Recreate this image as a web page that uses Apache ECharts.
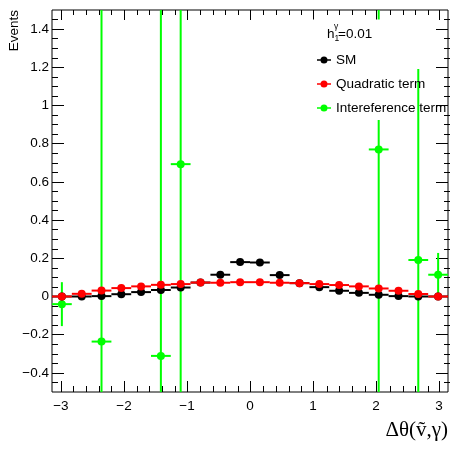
<!DOCTYPE html>
<html>
<head>
<meta charset="utf-8">
<script src="https://cdn.jsdelivr.net/npm/echarts@6/dist/echarts.min.js"></script>
<style>
  html, body { margin: 0; padding: 0; background: #fff; }
  #chart { width: 451px; height: 451px; }
</style>
</head>
<body>
<div id="chart"></div>
<script>
// Bin centres of the 20 bins spanning [-pi, pi]
const binCenters = [-2.985, -2.670, -2.356, -2.042, -1.728, -1.414, -1.100, -0.785, -0.471, -0.157,
                    0.157, 0.471, 0.785, 1.100, 1.414, 1.728, 2.042, 2.356, 2.670, 2.985];
const binHalfWidth = 0.157;

// Standard Model prediction
const smValues = [0.000, 0.000, 0.002, 0.012, 0.023, 0.034, 0.047, 0.073, 0.114, 0.180,
                  0.178, 0.112, 0.070, 0.049, 0.030, 0.019, 0.009, 0.002, 0.000, 0.000];
// Quadratic (EFT squared) term
const quadValues = [0.000, 0.014, 0.031, 0.044, 0.053, 0.061, 0.065, 0.073, 0.072, 0.075,
                    0.075, 0.072, 0.070, 0.065, 0.060, 0.053, 0.042, 0.030, 0.013, 0.000];
// Interference term (only non-empty bins are drawn)
const interfValues = [-0.040, null, -0.236, null, null, -0.311, 0.693, null, null, null,
                      null, null, null, null, null, null, 0.770, null, 0.191, 0.114];
const interfErrors = [0.115, null, 2.0, null, null, 2.1, 1.4, null, null, null,
                      null, null, null, null, null, null, 1.5, null, 1.0, 0.114];

// Axis ticks and labels
const xMajorTicks = [-3, -2, -1, 0, 1, 2, 3];
const yMajorTicks = [-0.4, -0.2, 0, 0.2, 0.4, 0.6, 0.8, 1, 1.2, 1.4];
const X_MIN = -Math.PI, X_MAX = Math.PI, Y_MIN = -0.5, Y_MAX = 1.5;

const xMinorTicks = [];
for (let i = -15; i <= 15; i++) { if (i % 5 !== 0) xMinorTicks.push(+(i * 0.2).toFixed(2)); }
const yMinorTicks = [];
for (let i = -9; i <= 29; i++) { if (i % 4 !== 0) yMinorTicks.push(+(i * 0.05).toFixed(2)); }

function rows(values, errors) {
  const out = [];
  values.forEach((v, i) => {
    if (v === null) return;
    out.push([binCenters[i], v, errors ? errors[i] : 0]);
  });
  return out;
}

function errorBarRenderer(color, lineWidth, radius) {
  return function (params, api) {
    const x = api.value(0), y = api.value(1), e = api.value(2) || 0;
    const cs = params.coordSys;
    const c = api.coord([x, y]);
    const l = api.coord([x - binHalfWidth, y]);
    const r = api.coord([x + binHalfWidth, y]);
    const clampY = v => Math.max(cs.y, Math.min(cs.y + cs.height, v));
    const children = [{
      type: 'line',
      shape: { x1: l[0], y1: c[1], x2: r[0], y2: c[1] },
      style: { stroke: color, lineWidth: lineWidth }
    }];
    if (e > 0) {
      const top = clampY(api.coord([x, y + e])[1]);
      const bot = clampY(api.coord([x, y - e])[1]);
      children.push({
        type: 'line',
        shape: { x1: c[0], y1: top, x2: c[0], y2: bot },
        style: { stroke: color, lineWidth: lineWidth }
      });
    }
    children.push({
      type: 'circle',
      shape: { cx: c[0], cy: c[1], r: radius },
      style: { fill: color }
    });
    return { type: 'group', children: children };
  };
}

const legendIcon = 'path://M0,3.25H14V4.75H0Z M10.5,4A3.5,3.5,0,1,1,3.5,4A3.5,3.5,0,1,1,10.5,4Z';
const sansFont = 'Liberation Sans, Arial, sans-serif';
const labelFont = { color: '#000', fontFamily: sansFont, fontSize: 13.5 };

function valueAxis(extra) {
  return Object.assign({
    type: 'value',
    axisLine: { show: false, onZero: false },
    splitLine: { show: false },
    axisLabel: { show: false },
    axisTick: { show: true, inside: true, lineStyle: { color: '#000', width: 1 } }
  }, extra);
}

function ticks(len, values) {
  return { show: true, inside: true, length: len, customValues: values, lineStyle: { color: '#000', width: 1 } };
}

function fmt(v) {
  const s = String(+(+v).toFixed(2));
  return s.replace('-', '\u2212');
}

const gridRect = { left: 52, right: 1, top: 10, bottom: 59 };

const option = {
  animation: false,
  backgroundColor: '#fff',
  grid: [
    Object.assign({ show: true, borderColor: '#000', borderWidth: 1, backgroundColor: 'transparent' }, gridRect),
    Object.assign({ show: false }, gridRect)
  ],
  xAxis: [
    valueAxis({
      gridIndex: 0, position: 'bottom', min: X_MIN, max: X_MAX,
      axisTick: ticks(11, xMajorTicks),
      axisLabel: Object.assign({ show: true, margin: 7, customValues: xMajorTicks, formatter: fmt }, labelFont),
      name: 'Δθ(ṽ,γ)',
      nameLocation: 'end',
      nameGap: 0,
      nameTextStyle: {
        fontFamily: 'Liberation Serif, Times New Roman, serif', fontSize: 21, color: '#000',
        align: 'right', verticalAlign: 'top', padding: [28, 0, 0, 0]
      }
    }),
    valueAxis({ gridIndex: 0, position: 'top', min: X_MIN, max: X_MAX, axisTick: ticks(10, xMajorTicks) }),
    valueAxis({ gridIndex: 1, position: 'bottom', min: X_MIN, max: X_MAX, axisTick: ticks(6, xMinorTicks) }),
    valueAxis({ gridIndex: 1, position: 'top', min: X_MIN, max: X_MAX, axisTick: ticks(5, xMinorTicks) })
  ],
  yAxis: [
    valueAxis({
      gridIndex: 0, position: 'left', min: Y_MIN, max: Y_MAX,
      axisTick: ticks(12, yMajorTicks),
      axisLabel: Object.assign({ show: true, margin: 3, customValues: yMajorTicks, formatter: fmt }, labelFont)
    }),
    valueAxis({ gridIndex: 0, position: 'right', min: Y_MIN, max: Y_MAX, axisTick: ticks(12, yMajorTicks) }),
    valueAxis({ gridIndex: 1, position: 'left', min: Y_MIN, max: Y_MAX, axisTick: ticks(6, yMinorTicks) }),
    valueAxis({ gridIndex: 1, position: 'right', min: Y_MIN, max: Y_MAX, axisTick: ticks(6, yMinorTicks) })
  ],
  legend: {
    orient: 'vertical',
    left: 312,
    top: 47,
    itemWidth: 14,
    itemHeight: 7,
    itemGap: 8,
    z: 10,
    selectedMode: false,
    textStyle: Object.assign({ lineHeight: 16 }, labelFont),
    data: [
      { name: 'SM', icon: legendIcon },
      { name: 'Quadratic term', icon: legendIcon },
      { name: 'Intereference term', icon: legendIcon }
    ]
  },
  graphic: [
    { type: 'rect', z: 5, shape: { x: 300, y: 19.5, width: 100, height: 100.5 }, style: { fill: '#fff' } },
    { type: 'text', z: 11, x: 327, y: 34, style: { text: 'h', fontSize: 13.5, fontFamily: sansFont, fill: '#000', verticalAlign: 'middle' } },
    { type: 'text', z: 11, x: 334, y: 27, style: { text: 'γ', fontSize: 8.5, fontFamily: sansFont, fill: '#000', verticalAlign: 'middle' } },
    { type: 'text', z: 11, x: 334.5, y: 38.5, style: { text: '1', fontSize: 8.5, fontFamily: sansFont, fill: '#000', verticalAlign: 'middle' } },
    { type: 'text', z: 11, x: 338, y: 34, style: { text: '=0.01', fontSize: 13.5, fontFamily: sansFont, fill: '#000', verticalAlign: 'middle' } },
    { type: 'text', z: 11, x: 14, y: 10, rotation: Math.PI / 2,
      style: { text: 'Events', fontSize: 13.5, fontFamily: sansFont, fill: '#000', align: 'right', verticalAlign: 'middle' } }
  ],
  series: [
    {
      name: 'Intereference term', type: 'custom', xAxisIndex: 0, yAxisIndex: 0, z: 2,
      itemStyle: { color: '#00ff00' },
      renderItem: errorBarRenderer('#00ff00', 2, 4),
      data: rows(interfValues, interfErrors)
    },
    {
      name: 'SM', type: 'custom', xAxisIndex: 0, yAxisIndex: 0, z: 3,
      itemStyle: { color: '#000000' },
      renderItem: errorBarRenderer('#000000', 2, 4),
      data: rows(smValues, null)
    },
    {
      name: 'Quadratic term', type: 'custom', xAxisIndex: 0, yAxisIndex: 0, z: 4,
      itemStyle: { color: '#ff0000' },
      renderItem: errorBarRenderer('#ff0000', 2, 4),
      data: rows(quadValues, null)
    }
  ]
};

const chart = echarts.init(document.getElementById('chart'), null, { renderer: 'canvas' });
chart.setOption(option);
</script>
</body>
</html>
